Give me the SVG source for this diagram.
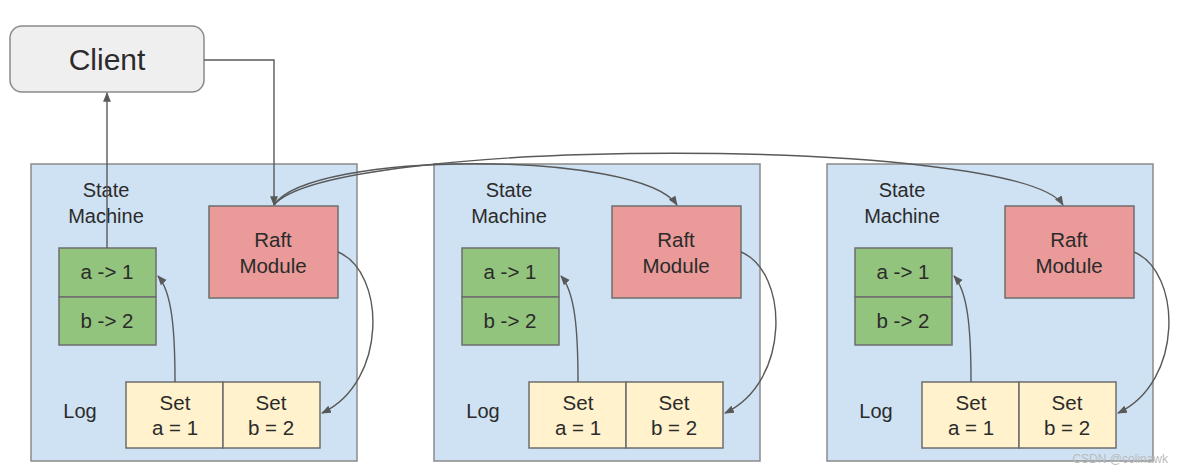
<svg xmlns="http://www.w3.org/2000/svg" width="1184" height="474" viewBox="0 0 1184 474">
<defs>
<style>
text{font-family:"Liberation Sans",Arial,sans-serif;fill:#2b2b2b;text-anchor:middle}
.srv{fill:#cfe2f3;stroke:#8a8a8a;stroke-width:1.5}
.raft{fill:#ea9a98;stroke:#6e6e6e;stroke-width:1.5}
.sm{fill:#93c47d;stroke:#6e6e6e;stroke-width:1.5}
.log{fill:#fff2cc;stroke:#6e6e6e;stroke-width:1.5}
.lbl{font-size:20px}
.t{font-size:20.5px}
.edge{fill:none;stroke:#595959;stroke-width:1.4;marker-end:url(#ah)}
.wm{font-size:12px;fill:#bbb;text-anchor:end}
</style>
<marker id="ah" viewBox="0 0 10 10" refX="9" refY="5" markerWidth="7" markerHeight="7" orient="auto-start-reverse">
<path d="M0,1 L10,5 L0,9 z" fill="#595959"/>
</marker>
<g id="server">
<rect class="srv" x="31" y="164" width="326" height="297"/>
<text class="lbl" x="106" y="197">State</text>
<text class="lbl" x="106" y="223">Machine</text>
<rect class="raft" x="209" y="206" width="129" height="92"/>
<text class="t" x="273" y="247">Raft</text>
<text class="t" x="273" y="273">Module</text>
<rect class="sm" x="59" y="248" width="97" height="49"/>
<rect class="sm" x="59" y="297" width="97" height="48"/>
<text class="t" x="107" y="279">a -&gt; 1</text>
<text class="t" x="107" y="328">b -&gt; 2</text>
<text class="lbl" x="80" y="418">Log</text>
<rect class="log" x="126" y="382" width="97" height="66"/>
<rect class="log" x="223" y="382" width="97" height="66"/>
<text class="t" x="175" y="410">Set</text>
<text class="t" x="175" y="435">a = 1</text>
<text class="t" x="271" y="410">Set</text>
<text class="t" x="271" y="435">b = 2</text>
<path class="edge" d="M175,382 C175,330 172,292 158,276"/>
<path class="edge" d="M338,252 C386,272 388,382 322,413"/>
</g>
</defs>
<g id="client">
<rect x="10" y="26" width="194" height="66" rx="12" ry="12" fill="#efefef" stroke="#8a8a8a" stroke-width="1.5"/>
<text x="107" y="70" font-size="30px">Client</text>
</g>
<g id="server1"><use href="#server"/></g>
<g id="server2"><use href="#server" transform="translate(403,0)"/></g>
<g id="server3"><use href="#server" transform="translate(796,0)"/></g>
<g id="connectors">
<path class="edge" d="M107,248 L107,93"/>
<path class="edge" d="M204,60 L274,60 L274,205"/>
<path class="edge" d="M274,205 C310,150 640,150 677,205"/>
<path class="edge" d="M274,205 C330,136 1020,136 1063,205"/>
</g>
<text class="wm" x="1168" y="463">CSDN @colinawk</text>
</svg>
